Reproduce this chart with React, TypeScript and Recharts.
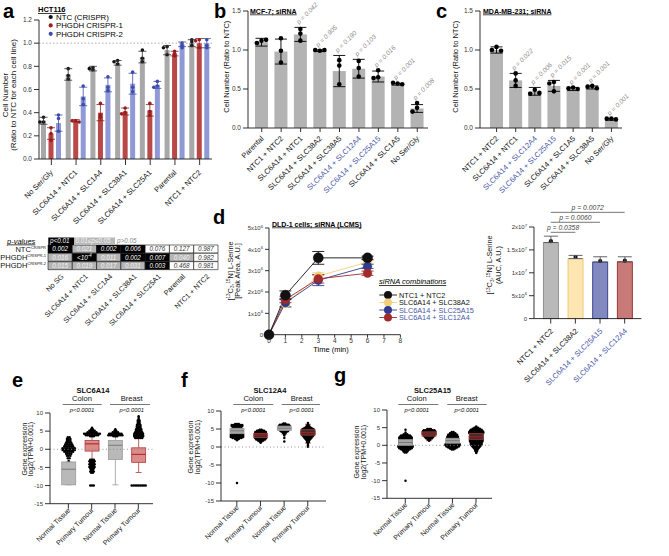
import React from 'react';
import { BarChart, Bar, XAxis, YAxis, ErrorBar, ReferenceLine, LineChart, Line, Cell, LabelList } from 'recharts';

const F = '"Liberation Sans", Arial, Helvetica, sans-serif';
const INK = '#1c1c1c';
const BLUE_TXT = '#4a58a8';
const axisStyle = { stroke: INK, strokeWidth: 0.9 };
const tickFont = { fontSize: 6.5, fill: '#333', fontFamily: F };

/* ---------- Panel a : HCT116 ---------- */
const aCategories = ['No Ser/Gly', 'SLC6A14 + NTC1', 'SLC6A14 + SLC1A4', 'SLC6A14 + SLC38A1', 'SLC6A14 + SLC25A1', 'Parental', 'NTC1 + NTC2'];
const aYTicks = [0, 0.2, 0.4, 0.6, 0.8, 1.0, 1.2];
const aSeriesNames = ['NTC (CRISPR)', 'PHGDH CRISPR-1', 'PHGDH CRISPR-2'];
const aNtcMean = [0.33, 0.73, 0.78, 0.83, 0.88, 0.94, 1.0];
const aNtcSd = [0.03, 0.05, 0.02, 0.02, 0.05, 0.04, 0.03];
const aNtcPts = [[0.36, 0.32, 0.32], [0.78, 0.72, 0.69], [0.79, 0.78, 0.77], [0.85, 0.84, 0.82], [0.94, 0.87, 0.84], [0.97, 0.96, 0.9], [1.03, 1.01, 0.98]];
const aCr1Mean = [0.22, 0.33, 0.4, 0.41, 0.42, 0.91, 1.0];
const aCr1Sd = [0.05, 0.01, 0.07, 0.03, 0.05, 0.02, 0.04];
const aCr1Pts = [[0.27, 0.22, 0.16], [0.33, 0.33, 0.32], [0.48, 0.38, 0.36], [0.44, 0.4, 0.39], [0.48, 0.41, 0.38], [0.93, 0.91, 0.89], [1.03, 1.02, 0.96]];
const aCr2Mean = [0.31, 0.54, 0.64, 0.65, 0.64, 0.99, 1.0];
const aCr2Sd = [0.07, 0.08, 0.06, 0.09, 0.03, 0.02, 0.04];
const aCr2Pts = [[0.38, 0.35, 0.24], [0.63, 0.52, 0.47], [0.71, 0.62, 0.59], [0.75, 0.62, 0.58], [0.67, 0.63, 0.62], [1.0, 0.98, 0.96], [1.03, 0.98, 0.96]];

/* ---------- p-value table ---------- */
const hmCols = ['No SG', 'SLC6A14 + NTC1', 'SLC6A14 + SLC1A4', 'SLC6A14 + SLC38A1', 'SLC6A14 + SLC25A1', 'Parental', 'NTC1 + NTC2'];
const hmRowNames = ['NTC', 'PHGDH', 'PHGDH'];
const hmRowSups = ['CRISPR', 'CRISPR-1', 'CRISPR-2'];
const hmNtc = ['0.002', '0.021', '0.002', '0.006', '0.076', '0.127', '0.987'];
const hmCr1 = ['0.016', '<10^-4', '0.011', '0.002', '0.007', '0.040', '0.982'];
const hmCr2 = ['0.015', '0.019', '0.017', '0.031', '0.003', '0.468', '0.981'];

/* ---------- Panel b : MCF-7 ---------- */
const bCategories = ['Parental', 'NTC1 + NTC2', 'SLC6A14 + NTC1', 'SLC6A14 + SLC38A2', 'SLC6A14 + SLC38A5', 'SLC6A14 + SLC12A4', 'SLC6A14 + SLC25A15', 'SLC6A14 + SLC1A5', 'No Ser/Gly'];
const bMean = [1.1, 0.98, 1.2, 0.99, 0.73, 0.76, 0.66, 0.56, 0.25];
const bSd = [0.05, 0.16, 0.09, 0.01, 0.2, 0.12, 0.07, 0.01, 0.05];
const bPts = [[1.12, 1.09, 1.13], [1.15, 0.99, 0.84], [1.27, 1.21, 1.12], [0.99, 1.0, 1.0], [0.87, 0.8, 0.56], [0.86, 0.77, 0.66], [0.74, 0.65, 0.64], [0.57, 0.58, 0.56], [0.32, 0.26, 0.21]];
const bP = ['', '', 'p = 0.042', 'p = 0.905', 'p = 0.190', 'p = 0.103', 'p = 0.016', 'p = 0.001', 'p = 0.008'];
const ratioTicks = [0, 0.5, 1.0, 1.5];

/* ---------- Panel c : MDA-MB-231 ---------- */
const cCategories = ['NTC1 + NTC2', 'SLC6A14 + NTC1', 'SLC6A14 + SLC12A4', 'SLC6A14 + SLC25A15', 'SLC6A14 + SLC1A5', 'SLC6A14 + SLC38A5', 'No Ser/Gly'];
const cMean = [1.0, 0.61, 0.47, 0.54, 0.5, 0.52, 0.11];
const cSd = [0.04, 0.09, 0.05, 0.07, 0.02, 0.02, 0.01];
const cPts = [[1.04, 1.0, 0.99], [0.7, 0.61, 0.54], [0.49, 0.44, 0.45], [0.59, 0.57, 0.47], [0.52, 0.51, 0.5], [0.54, 0.53, 0.51], [0.12, 0.12, 0.11]];
const cP = ['', 'p = 0.022', 'p = 0.006', 'p = 0.015', 'p = 0.001', 'p = 0.001', 'p = 0.001'];
const blueLabels = ['SLC6A14 + SLC12A4', 'SLC6A14 + SLC25A15'];

/* ---------- Panel d : DLD-1 time course ---------- */
const dTime = [0, 1, 3, 6];
const dSeriesNames = ['NTC1 + NTC2', 'SLC6A14 + SLC38A2', 'SLC6A14 + SLC25A15', 'SLC6A14 + SLC12A4'];
const dNtc = [0, 1.85e6, 3.6e6, 3.6e6];
const dNtcErr = [0, 0.2e6, 0.3e6, 0.08e6];
const dS38 = [0, 1.45e6, 2.75e6, 3.4e6];
const dS38Err = [0, 0.15e6, 0.15e6, 0.08e6];
const dS25 = [0, 1.5e6, 2.55e6, 3.2e6];
const dS25Err = [0, 0.2e6, 0.25e6, 0.1e6];
const dS12 = [0, 1.65e6, 2.62e6, 2.88e6];
const dS12Err = [0, 0.15e6, 0.2e6, 0.1e6];
const dXTicks = [0, 1, 2, 3, 4, 5, 6, 7, 8];
const dYTicks = [0, 1e6, 2e6, 3e6, 4e6, 5e6];
const dYLabels = ['0', '1x10^6', '2x10^6', '3x10^6', '4x10^6', '5x10^6'];

/* ---------- Panel d : AUC bars ---------- */
const dbCats = ['NTC1 + NTC2', 'SLC6A14 + SLC38A2', 'SLC6A14 + SLC25A15', 'SLC6A14 + SLC12A4'];
const dbMean = [1.66e7, 1.31e7, 1.235e7, 1.24e7];
const dbErr = [0.14e7, 0.07e7, 0.115e7, 0.11e7];
const dbPts = [[1.69e7], [1.345e7], [1.258e7], [1.265e7]];
const dbYTicks = [0, 5e6, 1e7, 1.5e7, 2e7];
const dbYLabels = ['0', '5x10^6', '1x10^7', '1.5x10^7', '2x10^7'];
const dbPvals = ['p = 0.0358', 'p = 0.0060', 'p = 0.0072'];
const dbPTo = [1, 2, 3];

/* ---------- Panels e-g : gene expression ---------- */
const geneCats = ['Normal Tissue', 'Primary Tumour', 'Normal Tissue', 'Primary Tumour'];
const geneTicks = [-15, -10, -5, 0, 5, 10];

const eBox = [[-9.8, -3.5], [-0.5, 2.4], [-2.8, 2.4], [-3.6, 0.4]];
const eMed = [-5.5, 1.5, 1.1, -1.4];
const eWhisk = [[-9.8, -3.5], [-2.8, 3.6], [-9.8, 3.6], [-6.4, 3.0]];
const eSwarm = [
  [[3.3, 2], [2.8, 3], [2.3, 3], [1.8, 4], [1.3, 5], [0.8, 6], [0.3, 8], [-0.2, 8], [-0.7, 6], [-1.2, 4], [-1.8, 3], [-2.5, 2], [-3.2, 1]],
  [[5.9, 1], [5.5, 2], [5.1, 4], [4.7, 6], [4.3, 10], [3.9, 8], [3.6, 3], [-2.9, 3], [-3.3, 4], [-3.7, 3], [-4.1, 4], [-4.5, 3], [-4.9, 4], [-5.3, 3], [-5.7, 2], [-6.1, 3], [-6.5, 2], [-10, 3]],
  [[5.5, 1], [5.1, 2], [4.7, 4], [4.3, 8], [3.9, 9], [3.6, 3]],
  [[9.1, 1], [8.7, 1], [8.3, 1], [7.9, 2], [7.5, 2], [7.1, 2], [6.7, 3], [6.3, 3], [5.9, 3], [5.5, 4], [5.1, 4], [4.7, 5], [4.3, 6], [3.9, 6], [3.5, 6], [3.1, 5], [-10, 9]],
];

const fBox = [[3.7, 5.2], [2.6, 3.8], [4.6, 5.8], [3.3, 4.8]];
const fMed = [4.5, 3.3, 5.2, 4.0];
const fWhisk = [[2.2, 6.3], [1.5, 4.8], [3.5, 6.5], [1.1, 6.3]];
const fSwarm = [
  [[6.4, 3], [6.1, 7], [5.8, 7], [5.5, 5], [5.2, 6], [4.9, 7], [4.6, 7], [4.3, 7], [4.0, 7], [3.7, 7], [3.4, 8], [3.1, 8], [2.8, 8], [2.5, 6], [2.2, 3], [1.9, 1], [-10, 1]],
  [[4.8, 2], [4.5, 5], [4.2, 7], [3.9, 7], [3.6, 7], [3.3, 7], [3.0, 7], [2.7, 7], [2.4, 7], [2.1, 6], [1.8, 4], [1.5, 2], [1.2, 1]],
  [[6.5, 2], [6.2, 6], [5.9, 7], [5.6, 7], [5.3, 7], [5.0, 7], [4.7, 6], [4.4, 5], [4.1, 3], [3.8, 2], [3.5, 1], [3.2, 1], [2.5, 1], [1.5, 1]],
  [[6.7, 1], [6.3, 1], [5.9, 2], [5.6, 3], [5.3, 5], [5.0, 7], [4.7, 8], [4.4, 8], [4.1, 8], [3.8, 8], [3.5, 8], [3.2, 7], [2.9, 6], [2.6, 5], [2.3, 4], [2.0, 3], [1.7, 2], [1.4, 2], [1.1, 1], [0.8, 1], [0.4, 1], [0.1, 1]],
];

const gBox = [[0.0, 1.6], [2.6, 3.8], [0.6, 2.0], [1.7, 3.3]];
const gMed = [0.8, 3.2, 1.3, 2.4];
const gWhisk = [[-2.0, 3.0], [1.3, 4.6], [-1.0, 3.4], [-0.8, 4.8]];
const gSwarm = [
  [[4.4, 1], [3.6, 1], [3.1, 3], [2.8, 6], [2.5, 7], [2.2, 8], [1.9, 8], [1.6, 8], [1.3, 8], [1.0, 8], [0.7, 8], [0.4, 8], [0.1, 8], [-0.2, 9], [-0.5, 9], [-0.8, 8], [-1.1, 6], [-1.4, 4], [-1.7, 3], [-2.0, 2], [-10, 1]],
  [[4.6, 3], [4.3, 7], [4.0, 8], [3.7, 8], [3.4, 8], [3.1, 8], [2.8, 7], [2.5, 6], [2.2, 5], [1.9, 4], [1.6, 2], [1.3, 1]],
  [[3.8, 2], [3.4, 4], [3.0, 6], [2.7, 6], [2.4, 7], [2.1, 7], [1.8, 7], [1.5, 7], [1.2, 7], [0.9, 7], [0.6, 8], [0.3, 9], [0.0, 9], [-0.3, 8], [-0.6, 6], [-0.9, 4], [-1.2, 2]],
  [[5.3, 1], [5.0, 3], [4.7, 5], [4.4, 7], [4.1, 8], [3.8, 9], [3.5, 9], [3.2, 8], [2.9, 8], [2.6, 8], [2.3, 8], [2.0, 8], [1.7, 8], [1.4, 8], [1.1, 8], [0.8, 7], [0.5, 7], [0.2, 7], [-0.1, 6], [-0.4, 5], [-0.7, 4], [-1.0, 3], [-1.3, 2], [-1.6, 2], [-1.9, 1], [-2.2, 1]],
];

/* ---------- helpers ---------- */
type Frame = { left: number; top: number; width: number; height: number; margin: any };
function frame(px: number, py: number, pw: number, ph: number, yw: number, xh: number, mt: number, mr: number): Frame {
  return { left: px - yw, top: py - mt, width: yw + pw + mr, height: mt + ph + xh, margin: { top: mt, right: mr, bottom: 0, left: 0 } };
}
const Pos = ({ f, children }: any) => (
  <div style={{ position: 'absolute', left: f.left, top: f.top, width: f.width, height: f.height }}>{children}</div>
);

function supText(s: string, fs: number) {
  const i = s.indexOf('^');
  if (i < 0) return s;
  return [
    <tspan key="a">{s.slice(0, i)}</tspan>,
    <tspan key="b" fontSize={fs * 0.7} dy={-fs * 0.42}>{s.slice(i + 1)}</tspan>,
  ];
}

function pNum(s: string) {
  if (s.startsWith('<')) return 0.0001;
  return parseFloat(s);
}
function pFill(s: string) {
  const v = pNum(s);
  if (v < 0.01) return '#000';
  if (v <= 0.05) return '#b5b5b5';
  return '#fff';
}
function pTextFill(s: string) {
  const v = pNum(s);
  if (v < 0.01) return '#fff';
  if (v <= 0.05) return '#f2f2f2';
  return '#333';
}

function placeDots(ys: number[], r: number, cx: number, minDist: number) {
  const out: { x: number; y: number }[] = [];
  const step = r * 2;
  for (const y of ys) {
    let px = cx;
    for (const o of [0, -1, 1, -2, 2]) {
      const cand = cx + o * step;
      if (out.every((p) => (p.x - cand) ** 2 + (p.y - y) ** 2 >= (r * minDist) ** 2)) {
        px = cand;
        break;
      }
    }
    out.push({ x: px, y });
  }
  return out;
}

function dotBarShape(cfg: { meanKey: string; ptsKey: string; sdKey?: string; pKey?: string; fill: string; stroke?: string; dot: string; r: number; minDist?: number }) {
  return (props: any) => {
    const { x, y, width, height, payload, index } = props;
    const mean = payload[cfg.meanKey];
    const k = mean ? height / mean : 0;
    const base = y + height;
    const py = (v: number) => base - v * k;
    const cx = x + width / 2;
    const ptsV: number[] = payload[cfg.ptsKey] || [];
    const pts = placeDots(ptsV.map(py), cfg.r, cx, cfg.minDist ?? 1.85);
    let label: any = null;
    if (cfg.pKey && payload[cfg.pKey]) {
      const sdv = cfg.sdKey ? payload[cfg.sdKey] : 0;
      const top = Math.min(py(mean + sdv), ...ptsV.map(py)) - cfg.r;
      const lx = cx - 1.5;
      const ly = top - 0.5;
      label = (
        <text x={lx} y={ly} transform={`rotate(-45 ${lx} ${ly})`} fontSize={6.5} fontStyle="italic" fill="#8c8c8c" fontFamily={F}>
          {payload[cfg.pKey]}
        </text>
      );
    }
    return (
      <g key={`sh-${index}`}>
        <rect x={x} y={y} width={width} height={height} fill={cfg.fill} stroke={cfg.stroke || 'none'} strokeWidth={0.9} />
        {pts.map((p, i) => (
          <circle key={i} cx={p.x} cy={p.y} r={cfg.r} fill={cfg.dot} />
        ))}
        {label}
      </g>
    );
  };
}

const RotTick = (p: any) => {
  const { x, y, payload, fs, dx, dy, colorOf, labelOf } = p;
  const label = labelOf ? labelOf(payload.value) : payload.value;
  const fill = colorOf ? colorOf(label) : '#111';
  const ax = x + dx;
  const ay = y + dy;
  return (
    <text x={ax} y={ay} transform={`rotate(-45 ${ax} ${ay})`} textAnchor="end" fontSize={fs} fill={fill} fontFamily={F}>
      {label}
    </text>
  );
};

const SciTick = (p: any) => {
  const { x, y, payload, ticks, labels } = p;
  const idx = ticks.indexOf(payload.value);
  const lab = idx >= 0 ? labels[idx] : String(payload.value);
  return (
    <text x={x} y={y + 2.2} textAnchor="end" fontSize={6} fill="#333" fontFamily={F}>
      {supText(lab, 6)}
    </text>
  );
};

const labelColor = (l: string) => (blueLabels.includes(l) ? BLUE_TXT : '#111');

/* ---------- Panel a chart ---------- */
function PanelA() {
  const f = frame(39, 20, 173, 139, 30, 80, 10, 4);
  const data = aCategories.map((c, i) => ({
    cat: c,
    ntc: aNtcMean[i], ntcSd: aNtcSd[i], ntcPts: aNtcPts[i],
    cr1: aCr1Mean[i], cr1Sd: aCr1Sd[i], cr1Pts: aCr1Pts[i],
    cr2: aCr2Mean[i], cr2Sd: aCr2Sd[i], cr2Pts: aCr2Pts[i],
  }));
  return (
    <Pos f={f}>
      <BarChart width={f.width} height={f.height} margin={f.margin} data={data} barSize={5} barGap={2.5}>
        <XAxis dataKey="cat" interval={0} height={80} tickSize={6} axisLine={axisStyle} tickLine={axisStyle}
          tick={(p: any) => <RotTick {...p} fs={7.5} dx={2} dy={6} />} />
        <YAxis domain={[0, 1.2]} ticks={aYTicks} interval={0} tickFormatter={(v: number) => v.toFixed(1)} width={30} tickSize={5}
          axisLine={axisStyle} tickLine={axisStyle} tick={tickFont} />
        <ReferenceLine y={1} stroke="#9a9a9a" strokeDasharray="1.5 2" strokeWidth={0.8} />
        <Bar dataKey="ntc" fill="#a8a8a8" isAnimationActive={false}
          shape={dotBarShape({ meanKey: 'ntc', ptsKey: 'ntcPts', fill: '#a8a8a8', dot: '#111', r: 1.8, minDist: 1.1 })}>
          <ErrorBar dataKey="ntcSd" width={4} stroke="#333" strokeWidth={0.8} />
        </Bar>
        <Bar dataKey="cr1" fill="#b94848" isAnimationActive={false}
          shape={dotBarShape({ meanKey: 'cr1', ptsKey: 'cr1Pts', fill: '#b94848', dot: '#a01e1e', r: 1.8, minDist: 1.1 })}>
          <ErrorBar dataKey="cr1Sd" width={4} stroke="#8e1e1e" strokeWidth={0.8} />
        </Bar>
        <Bar dataKey="cr2" fill="#8e99d6" isAnimationActive={false}
          shape={dotBarShape({ meanKey: 'cr2', ptsKey: 'cr2Pts', fill: '#8e99d6', dot: '#3f4cab', r: 1.8, minDist: 1.1 })}>
          <ErrorBar dataKey="cr2Sd" width={4} stroke="#3f4cab" strokeWidth={0.8} />
        </Bar>
      </BarChart>
    </Pos>
  );
}

/* ---------- p-value table ---------- */
function PTable() {
  const f = frame(48.3, 245, 170, 25, 48, 60, 3, 4);
  const rows = [hmNtc, hmCr1, hmCr2];
  const data = rows.map((arr, i) => {
    const o: any = { row: 'r' + i };
    arr.forEach((s, j) => {
      o['c' + j] = 1;
      o['p' + j] = s;
    });
    return o;
  });
  const colTicks = hmCols.map((_, j) => j + 0.5);
  return (
    <Pos f={f}>
      <BarChart layout="vertical" width={f.width} height={f.height} margin={f.margin} data={data} barCategoryGap={0}>
        <XAxis type="number" domain={[0, 7]} ticks={colTicks} interval={0} height={60} axisLine={false} tickLine={false} tickSize={0}
          tick={(p: any) => <RotTick {...p} fs={7.2} dx={4} dy={5} labelOf={(v: number) => hmCols[Math.floor(v)]} />} />
        <YAxis type="category" dataKey="row" width={48} interval={0} axisLine={false} tickLine={false} tickSize={0} tickMargin={2}
          tick={(p: any) => {
            const i = parseInt(String(p.payload.value).slice(1), 10);
            return (
              <text x={p.x} y={p.y + 2.6} textAnchor="end" fontSize={7.5} fill="#111" fontFamily={F}>
                {hmRowNames[i]}
                <tspan fontSize={4} dy={-3}>{hmRowSups[i]}</tspan>
              </text>
            );
          }} />
        {hmCols.map((_, j) => (
          <Bar key={j} dataKey={'c' + j} stackId="s" stroke="#111" strokeWidth={0.6} isAnimationActive={false}>
            {data.map((d, i) => (
              <Cell key={i} fill={pFill(d['p' + j])} />
            ))}
            <LabelList dataKey={'c' + j} content={(lp: any) => {
              const s = data[lp.index] ? data[lp.index]['p' + j] : '';
              return (
                <text x={lp.x + lp.width / 2} y={lp.y + lp.height / 2 + 2.2} textAnchor="middle" fontSize={6.3}
                  fontStyle="italic" fill={pTextFill(s)} fontFamily={F}>
                  {supText(s, 6.3)}
                </text>
              );
            }} />
          </Bar>
        ))}
      </BarChart>
    </Pos>
  );
}

/* ---------- Panels b and c ---------- */
function RatioPanel({ f, cats, mean, sd, pts, pv, padL, padR }: any) {
  const data = cats.map((c: string, i: number) => ({ cat: c, m: mean[i], sd: sd[i], pts: pts[i], p: pv[i] }));
  return (
    <Pos f={f}>
      <BarChart width={f.width} height={f.height} margin={f.margin} data={data} barSize={13}>
        <XAxis dataKey="cat" interval={0} height={80} tickSize={4} padding={{ left: padL, right: padR }}
          axisLine={axisStyle} tickLine={axisStyle}
          tick={(p: any) => <RotTick {...p} fs={7.5} dx={2.5} dy={5} colorOf={labelColor} />} />
        <YAxis domain={[0, 1.5]} ticks={ratioTicks} interval={0} tickFormatter={(v: number) => v.toFixed(1)} width={30} tickSize={5}
          axisLine={axisStyle} tickLine={axisStyle} tick={tickFont} />
        <Bar dataKey="m" fill="#b3b3b3" isAnimationActive={false}
          shape={dotBarShape({ meanKey: 'm', ptsKey: 'pts', sdKey: 'sd', pKey: 'p', fill: '#b3b3b3', dot: '#000', r: 2.3 })}>
          <ErrorBar dataKey="sd" width={6} stroke="#000" strokeWidth={0.9} />
        </Bar>
      </BarChart>
    </Pos>
  );
}

/* ---------- Panel d line chart ---------- */
function PanelDLine() {
  const f = frame(269.3, 228.3, 131.4, 106.7, 45, 25, 5, 5);
  const data = dTime.map((t, i) => ({
    t,
    ntc: dNtc[i], ntcE: dNtcErr[i],
    s38: dS38[i], s38E: dS38Err[i],
    s25: dS25[i], s25E: dS25Err[i],
    s12: dS12[i], s12E: dS12Err[i],
  }));
  const series = [
    { k: 's38', e: 's38E', c: '#f2cf7e', r: 4.3 },
    { k: 's25', e: 's25E', c: '#2f3b8f', r: 4.3 },
    { k: 's12', e: 's12E', c: '#a32a2a', r: 4.3 },
    { k: 'ntc', e: 'ntcE', c: '#111111', r: 5 },
  ];
  return (
    <Pos f={f}>
      <LineChart width={f.width} height={f.height} margin={f.margin} data={data}>
        <XAxis type="number" dataKey="t" domain={[0, 8]} ticks={dXTicks} interval={0} height={25} tickSize={3} tickMargin={1}
          axisLine={axisStyle} tickLine={axisStyle} tick={tickFont} />
        <YAxis domain={[0, 5e6]} ticks={dYTicks} interval={0} width={45} tickSize={4} axisLine={axisStyle} tickLine={axisStyle}
          tick={(p: any) => <SciTick {...p} ticks={dYTicks} labels={dYLabels} />} />
        {series.map((s) => (
          <Line key={s.k} dataKey={s.k} stroke={s.c} strokeWidth={0.9} isAnimationActive={false}
            dot={{ r: s.r, fill: s.c, stroke: s.c, strokeWidth: 0.5 }}>
            <ErrorBar dataKey={s.e} width={6} stroke={s.c} strokeWidth={0.9} />
          </Line>
        ))}
      </LineChart>
    </Pos>
  );
}

/* ---------- Panel d AUC bars ---------- */
function PanelDBar() {
  const f = frame(534.3, 226.7, 107.4, 91.6, 45, 85, 26, 6);
  const fills = ['#b9b9b9', '#fde6b2', '#8189bf', '#c87a78'];
  const strokes = ['#8a8a8a', '#efc56c', '#2f3a8a', '#9b2727'];
  const data = dbCats.map((c, i) => ({ cat: c, m: dbMean[i], e: [0, dbErr[i]], pts: dbPts[i] }));
  const levels = [1.884e7, 2.103e7, 2.32e7];
  return (
    <Pos f={f}>
      <BarChart width={f.width} height={f.height} margin={f.margin} data={data} barSize={15}>
        <XAxis dataKey="cat" interval={0} height={85} tickSize={5} padding={{ left: 4.4, right: 4.4 }}
          axisLine={axisStyle} tickLine={axisStyle}
          tick={(p: any) => <RotTick {...p} fs={7.5} dx={3} dy={6} colorOf={labelColor} />} />
        <YAxis domain={[0, 2e7]} ticks={dbYTicks} interval={0} width={45} tickSize={5} axisLine={axisStyle} tickLine={axisStyle}
          tick={(p: any) => <SciTick {...p} ticks={dbYTicks} labels={dbYLabels} />} />
        <Bar dataKey="m" isAnimationActive={false}
          shape={(props: any) => {
            const i = props.index;
            return dotBarShape({ meanKey: 'm', ptsKey: 'pts', fill: fills[i], stroke: strokes[i], dot: '#111', r: 2.1 })(props);
          }}>
          {data.map((d, i) => (
            <Cell key={i} fill={fills[i]} stroke={strokes[i]} />
          ))}
          <ErrorBar dataKey="e" width={7} stroke="#555" strokeWidth={0.9} />
        </Bar>
        {dbPvals.map((p, i) => (
          <ReferenceLine key={i} ifOverflow="visible" stroke="#555" strokeWidth={0.8}
            segment={[{ x: dbCats[0], y: levels[i] }, { x: dbCats[dbPTo[i]], y: levels[i] }]}
            label={{ value: p, position: 'top', offset: 2, fontSize: 6.8, fontStyle: 'italic', fill: '#444', fontFamily: F }} />
        ))}
      </BarChart>
    </Pos>
  );
}

/* ---------- Panels e-g ---------- */
function boxShape(opts: { tumourOpacity: number; normalOpacity: number }) {
  return (props: any) => {
    let { x, y, width, height } = props;
    const { payload, index } = props;
    if (height < 0) {
      y = y + height;
      height = -height;
    }
    const [lo, hi] = payload.box;
    const k = height / (hi - lo);
    const py = (v: number) => y + (hi - v) * k;
    const cx = x + width / 2;
    const tumour = index % 2 === 1;
    const fill = tumour ? '#dc8b8b' : '#b9b9b9';
    const stroke = tumour ? '#b23a3a' : '#9a9a9a';
    const medC = tumour ? '#a82020' : '#777';
    const [wl, wh] = payload.wh;
    const sp = 1.75;
    const dots: any[] = [];
    payload.sw.forEach(([v, n]: number[], bi: number) => {
      for (let j = 0; j < n; j++) {
        dots.push(<circle key={`${bi}-${j}`} cx={cx + (j - (n - 1) / 2) * sp} cy={py(v)} r={1.25} fill="#000" />);
      }
    });
    return (
      <g key={`bx-${index}`}>
        <line x1={cx} x2={cx} y1={py(wh)} y2={py(hi)} stroke={stroke} strokeWidth={0.8} />
        <line x1={cx} x2={cx} y1={py(lo)} y2={py(wl)} stroke={stroke} strokeWidth={0.8} />
        <line x1={cx - 3} x2={cx + 3} y1={py(wl)} y2={py(wl)} stroke={stroke} strokeWidth={0.8} />
        <line x1={cx - 3} x2={cx + 3} y1={py(wh)} y2={py(wh)} stroke={stroke} strokeWidth={0.8} />
        {dots}
        <rect x={x} y={y} width={width} height={height} fill={fill}
          fillOpacity={tumour ? opts.tumourOpacity : opts.normalOpacity} stroke={stroke} strokeWidth={0.8} />
        <line x1={x} x2={x + width} y1={py(payload.med)} y2={py(payload.med)} stroke={medC} strokeWidth={1} />
      </g>
    );
  };
}

function GenePanel({ f, box, med, wh, sw, padL, padR, tumourOpacity, normalOpacity }: any) {
  const data = geneCats.map((c, i) => ({ cat: c, box: box[i], med: med[i], wh: wh[i], sw: sw[i] }));
  return (
    <Pos f={f}>
      <BarChart width={f.width} height={f.height} margin={f.margin} data={data} barSize={14}>
        <XAxis dataKey="cat" interval={0} height={50} tickSize={5} padding={{ left: padL, right: padR }}
          axisLine={axisStyle} tickLine={axisStyle}
          tick={(p: any) => <RotTick {...p} fs={7} dx={2.5} dy={0} />} />
        <YAxis domain={[-15, 10]} ticks={geneTicks} interval={0} width={28} tickSize={5} axisLine={axisStyle} tickLine={axisStyle} tick={{ ...tickFont, fontSize: 6 }} />
        <ReferenceLine y={0} stroke="#8a8a8a" strokeDasharray="1 2.5" strokeWidth={0.9} />
        <Bar dataKey="box" isAnimationActive={false} shape={boxShape({ tumourOpacity, normalOpacity })} />
      </BarChart>
    </Pos>
  );
}

/* ---------- text overlay helpers ---------- */
const VText = ({ x, y, size, children, style }: any) => (
  <text x={x} y={y} transform={`rotate(-90 ${x} ${y})`} textAnchor="middle" fontSize={size} fill="#111" fontFamily={F} style={style}>
    {children}
  </text>
);

const serineLabel = (
  <>
    <tspan>[</tspan>
    <tspan dy={-2.4} fontSize={4.6}>13</tspan>
    <tspan dy={2.4}>C</tspan>
    <tspan dy={1.6} fontSize={4.6}>3</tspan>
    <tspan dy={-1.6}>,</tspan>
    <tspan dy={-2.4} fontSize={4.6}>15</tspan>
    <tspan dy={2.4}>N] L-Serine</tspan>
  </>
);

function GeneHeader({ title, tx, c1, l1, r1, c2, l2, r2 }: any) {
  return (
    <g fontFamily={F} fill="#111">
      <text x={tx} y={393} textAnchor="middle" fontSize={7.5} fontWeight="bold">{title}</text>
      <text x={c1} y={401} textAnchor="middle" fontSize={7.6}>Colon</text>
      <text x={c2} y={401} textAnchor="middle" fontSize={7.6}>Breast</text>
      <line x1={l1} x2={r1} y1={404.5} y2={404.5} stroke="#555" strokeWidth={0.8} />
      <line x1={l2} x2={r2} y1={404.5} y2={404.5} stroke="#555" strokeWidth={0.8} />
      <text x={c1} y={412.3} textAnchor="middle" fontSize={5.8} fontStyle="italic">p&lt;0.0001</text>
      <text x={c2} y={412.3} textAnchor="middle" fontSize={5.8} fontStyle="italic">p&lt;0.0001</text>
    </g>
  );
}

export default function App() {
  const fb = frame(248, 10.7, 180, 117, 30, 80, 20, 22);
  const fc = frame(480, 10.7, 142, 117, 30, 80, 20, 30);
  const fe = frame(50, 413.3, 103, 90.7, 28, 50, 5, 2);
  const ff = frame(221, 410.7, 105, 90, 28, 50, 5, 2);
  const fg = frame(386.7, 410, 105, 88.3, 28, 50, 5, 2);
  const aLegendColors = ['#111', '#a01e1e', '#3f4cab'];
  const dLegendColors = ['#111111', '#f2cf7e', '#2f3b8f', '#a32a2a'];
  const dLegendText = ['#111', '#111', BLUE_TXT, BLUE_TXT];
  return (
    <div style={{ position: 'absolute', left: 0, top: 0, width: 669, height: 556, background: '#fff', overflow: 'hidden', fontFamily: F }}>
      <PanelA />
      <PTable />
      <RatioPanel f={fb} cats={bCategories} mean={bMean} sd={bSd} pts={bPts} pv={bP} padL={4} padR={1} />
      <RatioPanel f={fc} cats={cCategories} mean={cMean} sd={cSd} pts={cPts} pv={cP} padL={7} padR={1} />
      <PanelDLine />
      <PanelDBar />
      <GenePanel f={fe} box={eBox} med={eMed} wh={eWhisk} sw={eSwarm} padL={6.7} padR={3} tumourOpacity={1} normalOpacity={1} />
      <GenePanel f={ff} box={fBox} med={fMed} wh={fWhisk} sw={fSwarm} padL={4} padR={6.4} tumourOpacity={0.3} normalOpacity={0.9} />
      <GenePanel f={fg} box={gBox} med={gMed} wh={gWhisk} sw={gSwarm} padL={6.5} padR={4.2} tumourOpacity={0.3} normalOpacity={0.9} />

      <svg width={669} height={556} style={{ position: 'absolute', left: 0, top: 0, pointerEvents: 'none' }} fontFamily={F}>
        {/* panel letters */}
        <g fontSize={20} fontWeight="bold" fill="#000">
          <text x={3} y={18}>a</text>
          <text x={214} y={18}>b</text>
          <text x={436} y={18}>c</text>
          <text x={213} y={224}>d</text>
          <text x={12} y={387}>e</text>
          <text x={181} y={387}>f</text>
          <text x={334} y={382}>g</text>
        </g>

        {/* panel a */}
        <text x={38} y={12} fontSize={7.5} fontWeight="bold" textDecoration="underline">HCT116</text>
        {aSeriesNames.map((n, i) => (
          <g key={n}>
            <circle cx={50.7} cy={17 + i * 8.4} r={2.1} fill={aLegendColors[i]} />
            <text x={56} y={19.7 + i * 8.4} fontSize={7.8}>{n}</text>
          </g>
        ))}
        <VText x={8} y={95} size={8}>Cell Number</VText>
        <VText x={15.5} y={95} size={8}>(Ratio to NTC for each cell line)</VText>

        {/* p-value legend */}
        <text x={7} y={243.5} fontSize={7.5} fontStyle="italic" textDecoration="underline">p-values</text>
        <rect x={48.3} y={237.5} width={25.7} height={7.5} fill="#000" />
        <text x={50} y={243.3} fontSize={6.3} fontStyle="italic" fill="#fff">p&lt;0.01</text>
        <rect x={74} y={237.5} width={41} height={7.5} fill="#b8b8b8" />
        <text x={75.5} y={243.3} fontSize={6.3} fontStyle="italic" fill="#f5f5f5">0.01≤p≤0.05</text>
        <text x={117} y={243.3} fontSize={6.3} fontStyle="italic" fill="#888">p&gt;0.05</text>

        {/* panel b / c */}
        <text x={250} y={13.5} fontSize={7} fontWeight="bold" textDecoration="underline">MCF-7; siRNA</text>
        <VText x={229.5} y={66.7} size={7.5}>Cell Number (Ratio to NTC)</VText>
        <text x={483} y={13.5} fontSize={7} fontWeight="bold" textDecoration="underline">MDA-MB-231; siRNA</text>
        <VText x={458} y={66.7} size={7.5}>Cell Number (Ratio to NTC)</VText>

        {/* panel d */}
        <text x={272} y={226.5} fontSize={7} fontWeight="bold" textDecoration="underline">DLD-1 cells; siRNA (LCMS)</text>
        <VText x={232.5} y={271} size={7.3}>{serineLabel}</VText>
        <VText x={240} y={271} size={7.3}>[Peak Area, A.U.]</VText>
        <text x={331} y={352} fontSize={7.5} textAnchor="middle">Time (min)</text>
        <text x={379} y={284} fontSize={7.5} fontStyle="italic" textDecoration="underline">siRNA combinations</text>
        {dSeriesNames.map((n, i) => (
          <g key={n}>
            <line x1={379.3} x2={397} y1={295 + i * 7.5} y2={295 + i * 7.5} stroke={dLegendColors[i]} strokeWidth={0.9} />
            <circle cx={388} cy={295 + i * 7.5} r={4} fill={dLegendColors[i]} />
            <text x={399} y={297.6 + i * 7.5} fontSize={7.3} fill={dLegendText[i]}>{n}</text>
          </g>
        ))}
        <VText x={492} y={265} size={7.3}>{serineLabel}</VText>
        <VText x={500.5} y={265} size={7.3}>(AUC, A.U.)</VText>

        {/* panels e-g headers */}
        <GeneHeader title="SLC6A14" tx={93} c1={82} l1={62.7} r1={101.7} c2={131.7} l2={110} r2={150} />
        <GeneHeader title="SLC12A4" tx={270} c1={253.3} l1={233.3} r1={273.3} c2={301.7} l2={281.7} r2={320} />
        <GeneHeader title="SLC25A15" tx={432.5} c1={416.7} l1={398.3} r1={438.3} c2={466.7} l2={447.3} r2={486.7} />
        <VText x={26.5} y={449} size={7}>Gene expression</VText>
        <VText x={33} y={449} size={7}>log2(TPM+0.001)</VText>
        <VText x={193} y={447} size={7}>Gene expression</VText>
        <VText x={199.5} y={447} size={7}>log2(TPM+0.001)</VText>
        <VText x={359} y={452} size={7}>Gene expression</VText>
        <VText x={365.5} y={452} size={7}>log2(TPM+0.001)</VText>
      </svg>
    </div>
  );
}
